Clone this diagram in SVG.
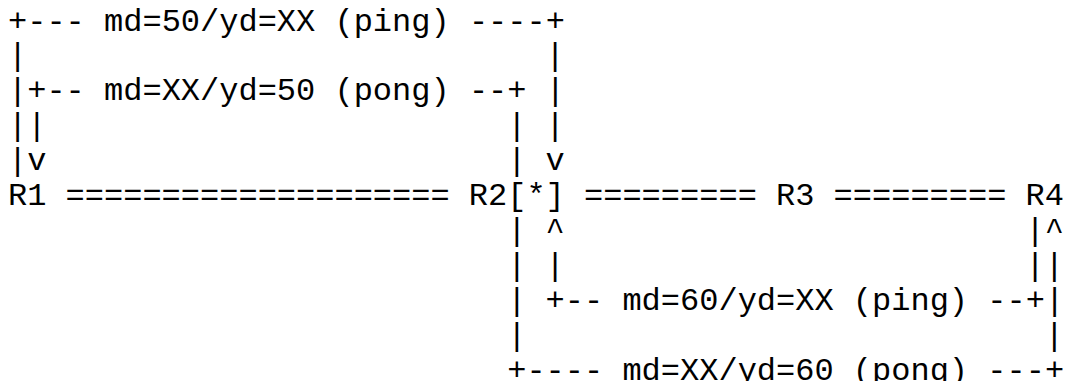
<svg xmlns="http://www.w3.org/2000/svg" width="1066" height="381" viewBox="0 0 1066 381">
<style>
text{font-family:"Liberation Mono","Courier New",monospace;font-size:32px;fill:#000;white-space:pre}
</style>
<rect width="1066" height="381" fill="#fff"/>
<g id="connectors">
<text x="8" y="30.5">+--- md=50/yd=XX (ping) ----+</text>
<text x="8" y="65.4">|</text><text x="545.6" y="65.4">|</text>
<text x="8" y="100.3">|+-- md=XX/yd=50 (pong) --+ |</text>
<text x="8" y="135.2">||</text><text x="507.2" y="135.2">| |</text>
<text x="8" y="170.1">|v</text><text x="507.2" y="170.1">| v</text>
<text x="65.6" y="205">====================</text>
<text x="584" y="205">=========</text>
<text x="833.6" y="205">=========</text>
<text x="507.2" y="239.9">| ^</text><text x="1025.6" y="239.9">|^</text>
<text x="507.2" y="274.8">| |</text><text x="1025.6" y="274.8">||</text>
<text x="507.2" y="309.7">| +-- md=60/yd=XX (ping) --+|</text>
<text x="507.2" y="344.6">|</text><text x="1044.8" y="344.6">|</text>
<text x="507.2" y="379.5">+---- md=XX/yd=60 (pong) ---+</text>
</g>
<g id="R1"><text x="8" y="205">R1</text></g>
<g id="R2"><text x="468.8" y="205">R2[*]</text></g>
<g id="R3"><text x="776" y="205">R3</text></g>
<g id="R4"><text x="1025.6" y="205">R4</text></g>
</svg>
